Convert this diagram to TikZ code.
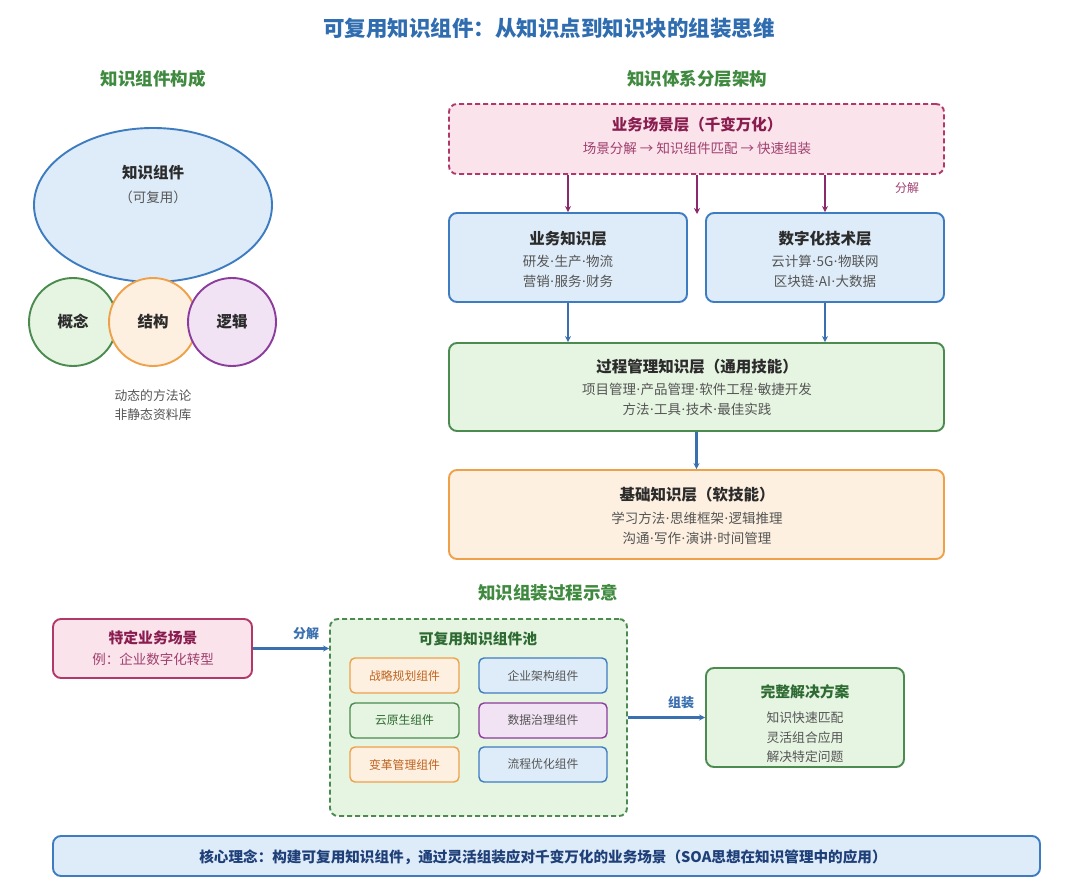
\documentclass[tikz,border=0pt]{standalone}
\usepackage{fontspec}
\setmainfont{Noto Sans CJK SC}
\newfontfamily\latfont{Noto Sans}
\newcommand\md{{\latfont\kern0.5pt·\kern0.5pt}}
\usetikzlibrary{arrows.meta}
\definecolor{titleblue}{HTML}{2F6DB0}
\definecolor{secgreen}{HTML}{3F8A3F}
\definecolor{bfill}{HTML}{DEECF9}
\definecolor{bdraw}{HTML}{3D7CC0}
\definecolor{gfill}{HTML}{E6F4E2}
\definecolor{gdraw}{HTML}{4B8B4F}
\definecolor{ofill}{HTML}{FDF0E0}
\definecolor{odraw}{HTML}{EFA14A}
\definecolor{pfill}{HTML}{FAE3EA}
\definecolor{pdraw}{HTML}{B2386A}
\definecolor{vfill}{HTML}{F1E2F4}
\definecolor{vdraw}{HTML}{8C3C9C}
\definecolor{darktxt}{HTML}{2B2B2B}
\definecolor{graytxt}{HTML}{555555}
\definecolor{pinktxt}{HTML}{8A1D50}
\definecolor{pinksub}{HTML}{A04070}
\definecolor{apurple}{HTML}{8A2A6A}
\definecolor{ablue}{HTML}{3A6FB0}
\definecolor{otxt}{HTML}{C0621E}
\definecolor{gtxt}{HTML}{2E6B32}
\definecolor{navy}{HTML}{1F3F78}
\tikzset{
  box/.style={rectangle, rounded corners=8pt, line width=1.9pt, inner sep=0pt},
  dbox/.style={box, dash pattern=on 5pt off 3pt},
  comp/.style={rectangle, rounded corners=5pt, line width=1.4pt, inner sep=0pt, minimum width=109pt, minimum height=35pt, font=\fontsize{11.8}{14}\selectfont},
  ttl/.style={font=\fontsize{15.5}{18}\selectfont\bfseries, text=darktxt, inner sep=0pt},
  ttls/.style={font=\fontsize{14.8}{17}\selectfont\bfseries, text=darktxt, inner sep=0pt},
  sub/.style={font=\fontsize{13.5}{16}\selectfont, text=graytxt, inner sep=0pt},
  subs/.style={font=\fontsize{12.8}{15}\selectfont, text=graytxt, inner sep=0pt},
  sec/.style={font=\fontsize{17.5}{20}\selectfont\bfseries, text=secgreen, inner sep=0pt},
  circ/.style={circle, line width=1.9pt, minimum size=88pt, inner sep=0pt, font=\fontsize{15.5}{18}\selectfont\bfseries, text=darktxt},
  parr/.style={-{Stealth[length=6pt,width=6pt]}, line width=2.4pt, draw=apurple},
  barr/.style={-{Stealth[length=6pt,width=6pt]}, line width=2.4pt, draw=ablue},
}
\begin{document}
\begin{tikzpicture}[x=1pt,y=-1pt]
\useasboundingbox (0,0) rectangle (1080,896);
\fill[white] (0,0) rectangle (1080,896);
% title
\node[font=\fontsize{21.5}{24}\selectfont\bfseries, text=titleblue, inner sep=0pt] (title) at (549,28) {可复用知识组件：从知识点到知识块的组装思维};
\node[sec] (secL) at (153,79) {知识组件构成};
\node[sec] (secR) at (697,79) {知识体系分层架构};
% left ellipse & circles
\draw[bdraw, fill=bfill, line width=1.9pt] (153,205) ellipse [x radius=119, y radius=77];
\node[circ, draw=gdraw, fill=gfill] (c1) at (73,322) {概念};
\node[circ, draw=odraw, fill=ofill] (c2) at (153,322) {结构};
\node[circ, draw=vdraw, fill=vfill] (c3) at (232,322) {逻辑};
\node[ttl] (kc) at (153,173) {知识组件};
\node[sub] (kc2) at (153,197) {（可复用）};
\node[subs] (d1) at (153,396) {动态的方法论};
\node[subs] (d2) at (153,415) {非静态资料库};
% right layers
\node[dbox, draw=pdraw, fill=pfill, minimum width=495pt, minimum height=70pt] (scene) at (696.5,139) {};
\node[ttl, text=pinktxt] (sceneT) at (697,125) {业务场景层（千变万化）};
\node[sub, text=pinksub] (sceneS) at (697,148) {场景分解 → 知识组件匹配 → 快速组装};
\node[box, draw=bdraw, fill=bfill, minimum width=238pt, minimum height=89pt] (biz) at (568,257.5) {};
\node[ttl] (bizT) at (568,239) {业务知识层};
\node[sub] (bizS1) at (568,261) {研发\md 生产\md 物流};
\node[sub] (bizS2) at (568,281) {营销\md 服务\md 财务};
\node[box, draw=bdraw, fill=bfill, minimum width=238pt, minimum height=89pt] (dig) at (825,257.5) {};
\node[ttl] (digT) at (825,239) {数字化技术层};
\node[sub] (digS1) at (825,261) {云计算\md 5G\md 物联网};
\node[sub] (digS2) at (825,281) {区块链\md AI\md 大数据};
\node[box, draw=gdraw, fill=gfill, minimum width=495pt, minimum height=88pt] (proc) at (696.5,387) {};
\node[ttl] (procT) at (697,367) {过程管理知识层（通用技能）};
\node[sub] (procS1) at (697,389) {项目管理\md 产品管理\md 软件工程\md 敏捷开发};
\node[sub] (procS2) at (697,409) {方法\md 工具\md 技术\md 最佳实践};
\node[box, draw=odraw, fill=ofill, minimum width=495pt, minimum height=89pt] (base) at (696.5,514.5) {};
\node[ttl] (baseT) at (697,495) {基础知识层（软技能）};
\node[sub] (baseS1) at (697,518) {学习方法\md 思维框架\md 逻辑推理};
\node[sub] (baseS2) at (697,538) {沟通\md 写作\md 演讲\md 时间管理};
% arrows right
\coordinate (midgap) at (697,214);
\draw[parr] (scene.south -| biz.north) -- (biz.north);
\draw[parr] (scene.south -| midgap) -- (midgap);
\draw[parr] (scene.south -| dig.north) -- (dig.north);
\node[subs, text=pinksub, font=\fontsize{12}{14}\selectfont] (fj1) at (907,188) {分解};
\draw[barr] (biz.south) -- (biz.south |- proc.north);
\draw[barr] (dig.south) -- (dig.south |- proc.north);
\draw[barr] (proc.south) -- (base.north);
% bottom
\node[sec] (secB) at (548,593) {知识组装过程示意};
\node[box, draw=pdraw, fill=pfill, minimum width=199pt, minimum height=59pt] (spec) at (152.5,648.5) {};
\node[ttls, text=pinktxt] (specT) at (153,638) {特定业务场景};
\node[sub, text=pinksub] (specS) at (153,659) {例：企业数字化转型};
\node[dbox, draw=gdraw, fill=gfill, minimum width=297pt, minimum height=197pt] (pool) at (478.5,717.5) {};
\node[ttls, text=gtxt] (poolT) at (478,639) {可复用知识组件池};
\node[comp, draw=odraw, fill=ofill, text=otxt] (k1) at (404.5,675.5) {战略规划组件};
\node[comp, draw=bdraw, fill=bfill, text=graytxt, minimum width=128pt] (k2) at (543,675.5) {企业架构组件};
\node[comp, draw=gdraw, fill=gfill, text=gtxt] (k3) at (404.5,720.5) {云原生组件};
\node[comp, draw=vdraw, fill=vfill, text=graytxt, minimum width=128pt] (k4) at (543,720.5) {数据治理组件};
\node[comp, draw=odraw, fill=ofill, text=otxt] (k5) at (404.5,764.5) {变革管理组件};
\node[comp, draw=bdraw, fill=bfill, text=graytxt, minimum width=128pt] (k6) at (543,764.5) {流程优化组件};
\node[box, draw=gdraw, fill=gfill, minimum width=198pt, minimum height=99pt] (sol) at (805,717.5) {};
\node[ttls, text=gtxt] (solT) at (805,692) {完整解决方案};
\node[subs] (solS1) at (805,718) {知识快速匹配};
\node[subs] (solS2) at (805,738) {灵活组合应用};
\node[subs] (solS3) at (805,757) {解决特定问题};
\draw[barr] (spec.east) -- (spec.east -| pool.west);
\node[font=\fontsize{13}{15}\selectfont\bfseries, text=ablue, inner sep=0pt] (fj2) at (306,634) {分解};
\draw[barr] (pool.east |- sol.west) -- (sol.west);
\node[font=\fontsize{13}{15}\selectfont\bfseries, text=ablue, inner sep=0pt] (zz) at (681,703) {组装};
% core bar
\node[box, draw=bdraw, fill=bfill, minimum width=987pt, minimum height=40pt] (core) at (546.5,856) {};
\node[font=\fontsize{14.6}{17}\selectfont\bfseries, text=navy, inner sep=0pt] (coreT) at (543,857) {核心理念：构建可复用知识组件，通过灵活组装应对千变万化的业务场景（SOA思想在知识管理中的应用）};
\end{tikzpicture}
\end{document}
